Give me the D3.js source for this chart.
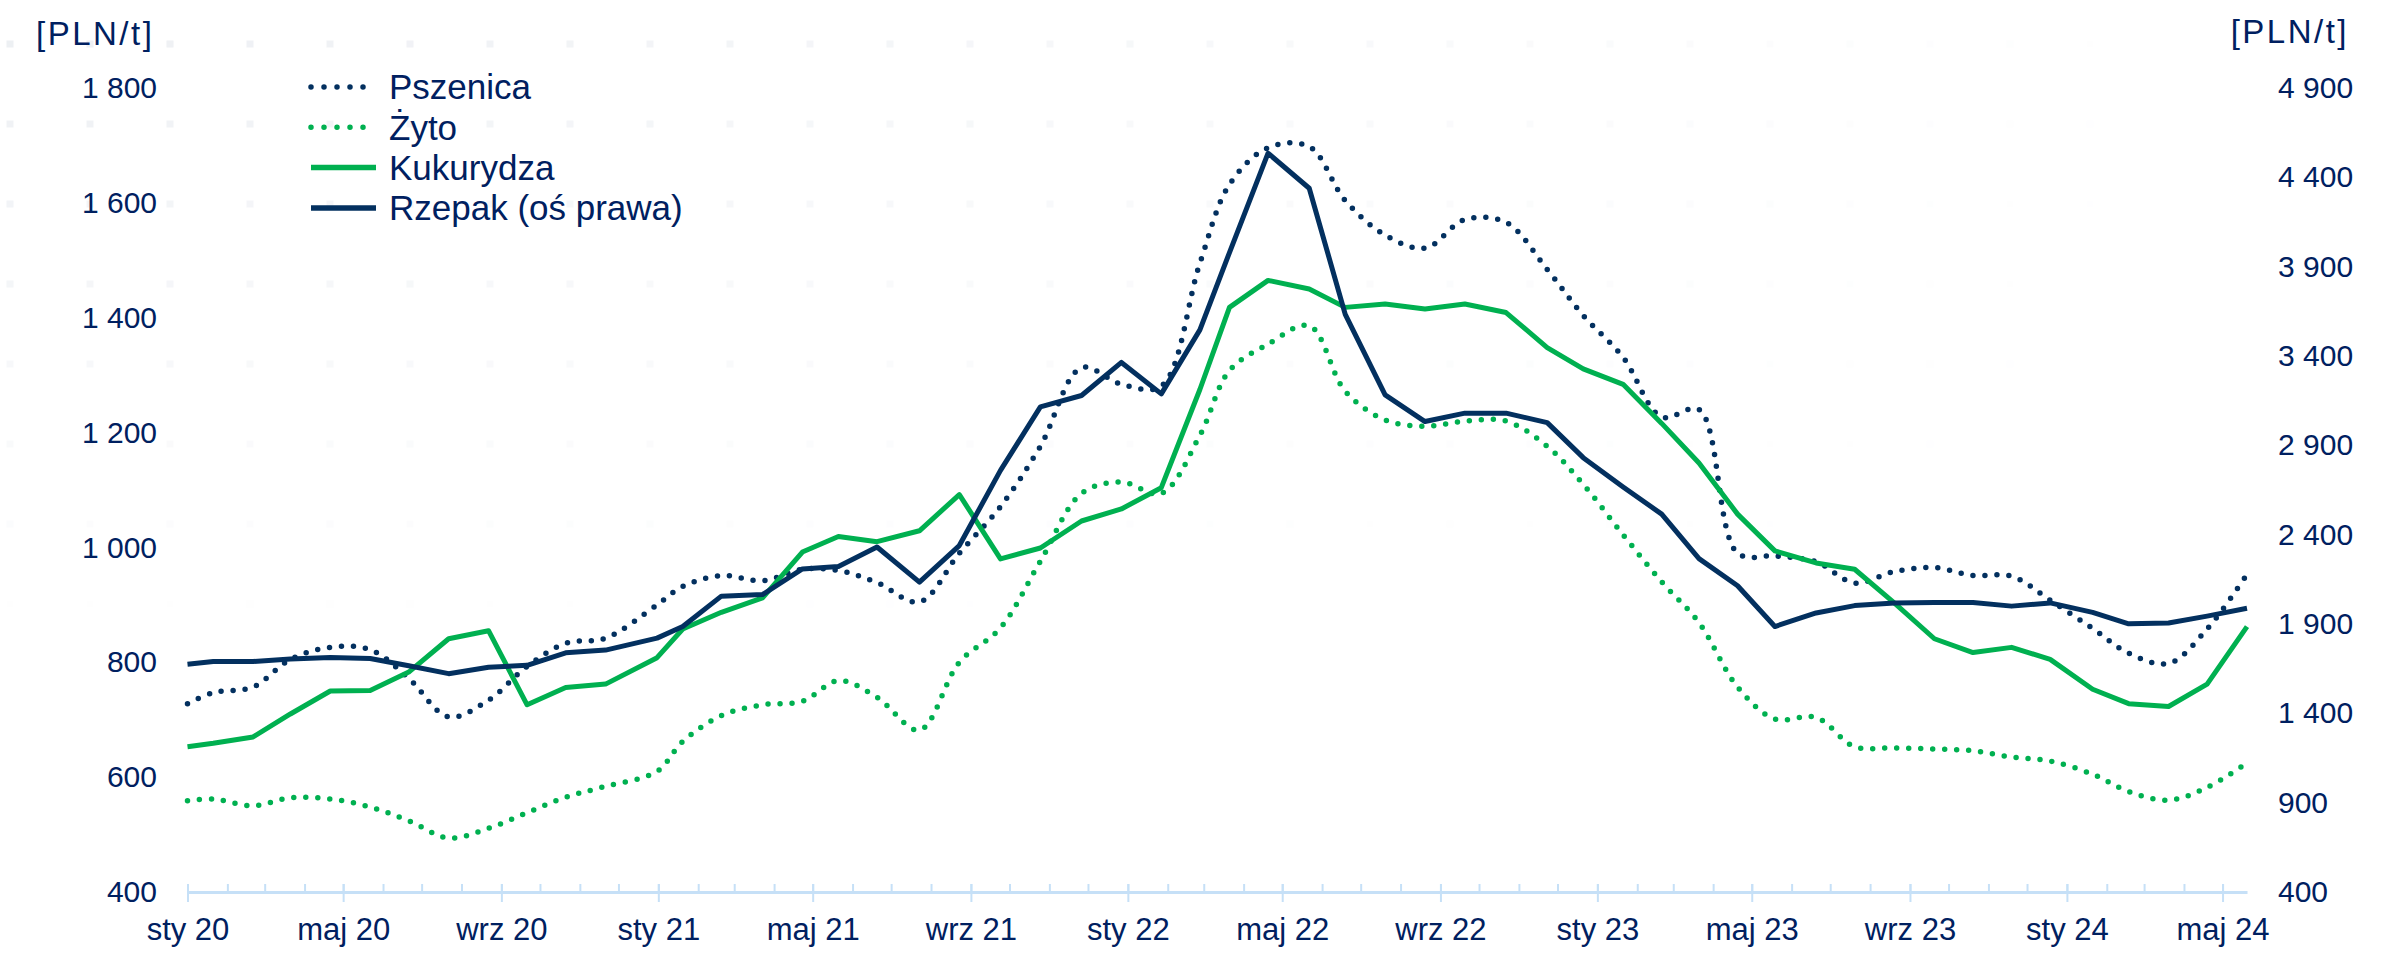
<!DOCTYPE html>
<html>
<head>
<meta charset="utf-8">
<script src="https://cdn.jsdelivr.net/npm/d3@7"></script>
<style>
  body { margin: 0; background: #fff; }
  text { font-family: "Liberation Sans", Arial, sans-serif; fill: #002060; }
</style>
</head>
<body>
<script>
// daty notowań (punkty serii)
var dates = [
  "2020-01-01","2020-01-21","2020-02-21","2020-03-21","2020-04-21","2020-05-22","2020-06-21","2020-07-22","2020-08-22","2020-09-21","2020-10-21","2020-11-21","2020-12-31",
  "2021-01-20","2021-02-19","2021-03-23","2021-04-23","2021-05-21","2021-06-20","2021-07-23","2021-08-23","2021-09-24","2021-10-25","2021-11-26","2021-12-27",
  "2022-01-27","2022-02-26","2022-03-21","2022-04-20","2022-05-22","2022-06-19","2022-07-20","2022-08-20","2022-09-20","2022-10-22","2022-11-23","2022-12-21",
  "2023-01-21","2023-02-20","2023-03-21","2023-04-20","2023-05-19","2023-06-20","2023-07-20","2023-08-20","2023-09-20","2023-10-20","2023-11-19","2023-12-19",
  "2024-01-21","2024-02-18","2024-03-20","2024-04-19","2024-05-20"
];

// ceny [PLN/t]
var pszenica = [728,747,757,805,826,822,772,705,734,793,833,842,900,
  932,951,942,962,960,939,905,990,1071,1176,1313,1284,
  1281,1495,1632,1696,1698,1604,1544,1521,1571,1566,1484,1404,
  1331,1227,1240,990,985,975,938,958,965,951,950,908,
  859,816,798,858,953];
var zyto = [559,562,550,564,562,548,524,494,511,538,565,584,610,
  662,707,726,732,768,739,682,800,860,976,1094,1114,
  1094,1195,1308,1354,1386,1272,1222,1211,1220,1220,1176,1110,
  1022,940,869,757,701,704,653,651,649,646,635,628,
  605,575,560,582,625];
var kukurydza = [653,659,670,710,750,751,783,841,855,726,756,762,808,
  858,887,912,992,1019,1010,1029,1092,980,999,1046,1067,
  1104,1275,1418,1465,1450,1418,1424,1415,1424,1409,1348,1311,
  1284,1216,1147,1058,994,973,962,903,841,817,826,805,
  753,728,723,762,862];
// rzepak - oś prawa
var rzepak = [1675,1690,1690,1704,1713,1707,1666,1622,1658,1669,1739,1754,1821,
  1886,2056,2065,2208,2222,2331,2134,2339,2760,3115,3179,3364,
  3188,3546,3979,4535,4339,3633,3182,3033,3080,3080,3027,2831,
  2667,2515,2266,2114,1886,1962,2003,2018,2020,2020,2000,2018,
  1965,1901,1906,1944,1988];

var leftTicks = [400, 600, 800, 1000, 1200, 1400, 1600, 1800];
var rightTicks = [400, 900, 1400, 1900, 2400, 2900, 3400, 3900, 4400, 4900];
var monthNames = ["sty","lut","mar","kwi","maj","cze","lip","sie","wrz","paź","lis","gru"];
var seriesNames = ["Pszenica", "Żyto", "Kukurydza", "Rzepak (oś prawa)"];
var axisStart = "2020-01-01", axisEnd = "2024-05-20";

var W = 2382, H = 965;
var navy = "#03305f", green = "#00b050", axisBlue = "#c6e0f7";
var parse = d3.utcParse("%Y-%m-%d");

var svg = d3.select("body").append("svg")
    .attr("width", W)
    .attr("height", H);

svg.append("rect").attr("width", W).attr("height", H).attr("fill", "#fff");

/* faint dotted background pattern */
var bg = svg.append("g");
for (var gx = 10; gx < W; gx += 80) {
  for (var gy = 44; gy < 700; gy += 80) {
    var op = 0.55 * Math.max(0, 1 - (gy - 44) / 600) * Math.max(0, 1 - gx / 2200);
    if (op <= 0.02) continue;
    bg.append("rect")
      .attr("x", gx - 3.5).attr("y", gy - 3.5)
      .attr("width", 7).attr("height", 7)
      .attr("fill", "#dfe3ea")
      .attr("opacity", op);
  }
}

var x = d3.scaleUtc().domain([parse(axisStart), parse(axisEnd)]).range([187.5, 2247]);
var yL = d3.scaleLinear().domain([400, 1800]).range([892, 88]);
var yR = d3.scaleLinear().domain([400, 4900]).range([892, 88]);

var fmt = d3.formatLocale({decimal: ",", thousands: " ", grouping: [3], currency: ["", ""]}).format(",");

/* y axes */
var gl = svg.append("g").attr("transform", "translate(157,0)")
  .call(d3.axisLeft(yL).tickValues(leftTicks).tickSize(0).tickPadding(0).tickFormat(fmt));
var gr = svg.append("g").attr("transform", "translate(2278,0)")
  .call(d3.axisRight(yR).tickValues(rightTicks).tickSize(0).tickPadding(0).tickFormat(fmt));
[gl, gr].forEach(function(g) {
  g.select(".domain").remove();
  g.selectAll("text").style("font-size", "30px").attr("fill", "#002060")
    .style("font-family", "'Liberation Sans', Arial, sans-serif");
});

/* x axis: minor ticks monthly, major every 4 months */
var months = d3.utcMonth.range(parse(axisStart), parse(axisEnd));
var majors = months.filter(function(d) { return d.getUTCMonth() % 4 === 0; });

var gxMinor = svg.append("g").attr("transform", "translate(0,892)")
  .call(d3.axisBottom(x).tickValues(months).tickSize(-8).tickSizeOuter(0).tickFormat(""));
gxMinor.select(".domain").attr("stroke", axisBlue).attr("stroke-width", 3);
gxMinor.selectAll(".tick line").attr("stroke", axisBlue).attr("stroke-width", 2);

var gxMajor = svg.append("g").attr("transform", "translate(0,892)")
  .call(d3.axisBottom(x).tickValues(majors).tickSize(10).tickPadding(16)
    .tickFormat(function(d) { return monthNames[d.getUTCMonth()] + " " + String(d.getUTCFullYear()).slice(2); }));
gxMajor.select(".domain").remove();
gxMajor.selectAll(".tick line").attr("y1", -8).attr("stroke", axisBlue).attr("stroke-width", 2);
gxMajor.selectAll("text").style("font-size", "31px").attr("fill", "#002060")
  .style("font-family", "'Liberation Sans', Arial, sans-serif");

/* units */
svg.append("text").attr("x", 36).attr("y", 33).attr("dy", "0.35em")
  .style("font-size", "33px").style("letter-spacing", "2.5px").text("[PLN/t]");
svg.append("text").attr("x", 2349).attr("y", 31).attr("dy", "0.35em")
  .attr("text-anchor", "end")
  .style("font-size", "33px").style("letter-spacing", "2.5px").text("[PLN/t]");

/* series */
function rows(vals) {
  return dates.map(function(d, i) { return {date: parse(d), v: vals[i]}; });
}
var smoothL = d3.line().x(function(d) { return x(d.date); }).y(function(d) { return yL(d.v); })
  .curve(d3.curveCatmullRom.alpha(0.5));
var lineL = d3.line().x(function(d) { return x(d.date); }).y(function(d) { return yL(d.v); });
var lineR = d3.line().x(function(d) { return x(d.date); }).y(function(d) { return yR(d.v); });

var series = [
  {name: seriesNames[0], path: smoothL(rows(pszenica)), color: navy, dotted: true},
  {name: seriesNames[1], path: smoothL(rows(zyto)), color: green, dotted: true},
  {name: seriesNames[2], path: lineL(rows(kukurydza)), color: green, dotted: false},
  {name: seriesNames[3], path: lineR(rows(rzepak)), color: navy, dotted: false}
];

var drawOrder = [1, 0, 2, 3];
drawOrder.forEach(function(i) {
  var s = series[i];
  var p = svg.append("path")
    .attr("d", s.path)
    .attr("fill", "none")
    .attr("stroke", s.color)
    .attr("stroke-linejoin", "round");
  if (s.dotted) {
    p.attr("stroke-width", 5.5).attr("stroke-linecap", "round").attr("stroke-dasharray", "0 12");
  } else {
    p.attr("stroke-width", 5);
  }
});

/* legend */
var leg = svg.append("g");
series.forEach(function(s, i) {
  var ly = 87 + i * 40.3;
  var l = leg.append("line")
    .attr("x1", 311).attr("x2", 376).attr("y1", ly).attr("y2", ly)
    .attr("stroke", s.color);
  if (s.dotted) {
    l.attr("stroke-width", 5.5).attr("stroke-linecap", "round").attr("stroke-dasharray", "0 13");
  } else {
    l.attr("stroke-width", 5.5);
  }
  leg.append("text").attr("x", 389).attr("y", ly).attr("dy", "0.35em")
    .style("font-size", "35px").text(s.name);
});
</script>
</body>
</html>
